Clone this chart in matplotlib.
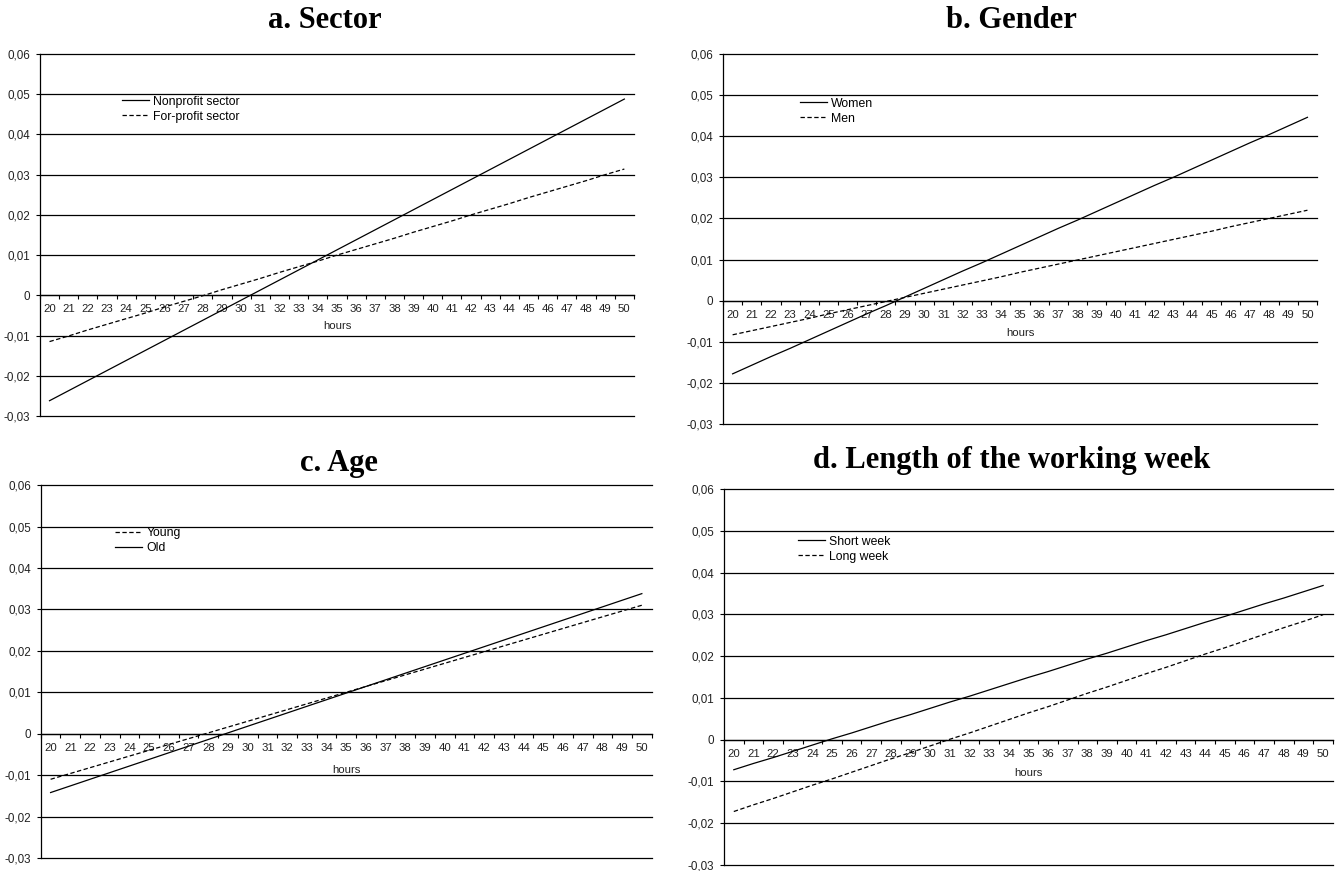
import matplotlib.pyplot as plt
from matplotlib.ticker import FixedLocator

hours = list(range(20, 51))

nonprofit = [-0.0262, -0.0237, -0.0212, -0.0187, -0.0162, -0.0137, -0.0112, -0.0087,
             -0.0062, -0.0037, -0.0012, 0.0013, 0.0038, 0.0063, 0.0088, 0.0113,
             0.0138, 0.0163, 0.0188, 0.0213, 0.0238, 0.0263, 0.0288, 0.0313,
             0.0338, 0.0363, 0.0388, 0.0413, 0.0438, 0.0463, 0.0488]
forprofit = [-0.0115, -0.0101, -0.0086, -0.0072, -0.0058, -0.0044, -0.0029, -0.0015,
             -0.0001, 0.0014, 0.0028, 0.0042, 0.0057, 0.0071, 0.0085, 0.0100,
             0.0114, 0.0128, 0.0142, 0.0157, 0.0171, 0.0185, 0.0200, 0.0214,
             0.0228, 0.0243, 0.0257, 0.0271, 0.0285, 0.0300, 0.0314]

women = [-0.0178, -0.0157, -0.0136, -0.0116, -0.0095, -0.0074, -0.0053, -0.0032,
         -0.0012, 0.0009, 0.0030, 0.0051, 0.0072, 0.0092, 0.0113, 0.0134,
         0.0155, 0.0176, 0.0196, 0.0217, 0.0238, 0.0259, 0.0280, 0.0300,
         0.0321, 0.0342, 0.0363, 0.0384, 0.0404, 0.0425, 0.0446]
men = [-0.0083, -0.0073, -0.0063, -0.0053, -0.0043, -0.0032, -0.0022, -0.0012,
       -0.0002, 0.0008, 0.0018, 0.0028, 0.0038, 0.0048, 0.0058, 0.0069,
       0.0079, 0.0089, 0.0099, 0.0109, 0.0119, 0.0129, 0.0139, 0.0149,
       0.0159, 0.0169, 0.0180, 0.0190, 0.0200, 0.0210, 0.0220]

young = [-0.0110, -0.0096, -0.0082, -0.0068, -0.0054, -0.0040, -0.0026, -0.0012,
         0.0002, 0.0016, 0.0030, 0.0044, 0.0058, 0.0072, 0.0086, 0.0100,
         0.0114, 0.0128, 0.0142, 0.0156, 0.0170, 0.0184, 0.0198, 0.0212,
         0.0226, 0.0240, 0.0254, 0.0268, 0.0282, 0.0296, 0.0310]
old = [-0.0142, -0.0126, -0.0110, -0.0094, -0.0078, -0.0062, -0.0046, -0.0030,
       -0.0014, 0.0002, 0.0018, 0.0034, 0.0050, 0.0066, 0.0082, 0.0098,
       0.0114, 0.0130, 0.0146, 0.0162, 0.0178, 0.0194, 0.0210, 0.0226,
       0.0242, 0.0258, 0.0274, 0.0290, 0.0306, 0.0322, 0.0338]

short_week = [-0.0072, -0.0057, -0.0043, -0.0028, -0.0013, 0.0002, 0.0016, 0.0031,
              0.0046, 0.0060, 0.0075, 0.0090, 0.0104, 0.0119, 0.0134, 0.0149,
              0.0163, 0.0178, 0.0193, 0.0207, 0.0222, 0.0237, 0.0251, 0.0266,
              0.0281, 0.0295, 0.0310, 0.0325, 0.0339, 0.0354, 0.0369]
long_week = [-0.0172, -0.0156, -0.0141, -0.0125, -0.0109, -0.0094, -0.0078, -0.0062,
             -0.0046, -0.0031, -0.0015, 0.0001, 0.0016, 0.0032, 0.0048, 0.0064,
             0.0079, 0.0095, 0.0111, 0.0126, 0.0142, 0.0158, 0.0173, 0.0189,
             0.0205, 0.0220, 0.0236, 0.0252, 0.0268, 0.0283, 0.0299]

yticks = [-0.03, -0.02, -0.01, 0, 0.01, 0.02, 0.03, 0.04, 0.05, 0.06]
ytick_labels = ['-0,03', '-0,02', '-0,01', '0', '0,01', '0,02', '0,03', '0,04', '0,05', '0,06']

plt.rcParams['font.family'] = ['Liberation Sans', 'DejaVu Sans']

fig = plt.figure(figsize=(13.36, 8.71), dpi=100)

SOLID = dict(color='black', lw=0.9)
DASHED = dict(color='black', lw=0.9, dashes=(3.5, 2))
TEXT_COLOR = '#222222'


def panel(rect, title, title_xy, series, legend_xy, hours_offset):
    ax = fig.add_axes(rect)
    for values, label, style in series:
        ax.plot(hours, values, label=label, **style)

    ax.set_xlim(hours[0] - 0.5, hours[-1] + 0.5)
    ax.set_ylim(-0.03, 0.06)

    ax.set_yticks(yticks)
    ax.set_yticklabels(ytick_labels)
    for y in yticks:
        ax.axhline(y, color='black', lw=0.9, zorder=1, clip_on=False)

    ax.spines['top'].set_visible(False)
    ax.spines['right'].set_visible(False)
    ax.spines['bottom'].set_position(('data', 0))
    ax.spines['left'].set_linewidth(0.9)
    ax.spines['bottom'].set_linewidth(0.9)

    # tick marks between categories, labels on the categories
    ax.xaxis.set_major_locator(FixedLocator([h - 0.5 for h in hours] + [hours[-1] + 0.5]))
    ax.xaxis.set_minor_locator(FixedLocator(hours))
    ax.set_xticklabels([], minor=False)
    ax.set_xticklabels([str(h) for h in hours], minor=True)
    ax.tick_params(axis='x', which='major', direction='out', length=3, width=0.8)
    ax.tick_params(axis='x', which='minor', length=0, pad=6.5, labelsize=8.2,
                   labelcolor=TEXT_COLOR)
    ax.tick_params(axis='y', direction='out', length=3, width=0.8, pad=4,
                   labelsize=8.4, labelcolor=TEXT_COLOR)

    ax.annotate('hours', xy=(0.5, 0), xycoords=('axes fraction', 'data'),
                xytext=(0, hours_offset), textcoords='offset points',
                ha='center', va='center', fontsize=8.2, color=TEXT_COLOR)

    ax.legend(loc='upper left', bbox_to_anchor=legend_xy, frameon=False,
              fontsize=8.8, handlelength=2.2, handletextpad=0.35,
              labelspacing=0.25, borderpad=0, borderaxespad=0)

    fig.text(title_xy[0], title_xy[1], title, ha='center', va='center',
             family='Liberation Serif', fontweight='bold', fontsize=22)
    return ax


panel((0.0299, 0.5224, 0.4446, 0.4156), 'a. Sector', (0.243, 0.976),
      [(nonprofit, 'Nonprofit sector', SOLID), (forprofit, 'For-profit sector', DASHED)],
      (0.138, 0.885), -22)

panel((0.5412, 0.5132, 0.4446, 0.4248), 'b. Gender', (0.757, 0.976),
      [(women, 'Women', SOLID), (men, 'Men', DASHED)],
      (0.13, 0.882), -23)

panel((0.0305, 0.0149, 0.4573, 0.4282), 'c. Age', (0.254, 0.468),
      [(young, 'Young', DASHED), (old, 'Old', SOLID)],
      (0.122, 0.888), -26)

panel((0.5419, 0.0069, 0.4558, 0.4317), 'd. Length of the working week', (0.757, 0.471),
      [(short_week, 'Short week', SOLID), (long_week, 'Long week', DASHED)],
      (0.1215, 0.876), -24)

fig.savefig('out.png', dpi=100)
